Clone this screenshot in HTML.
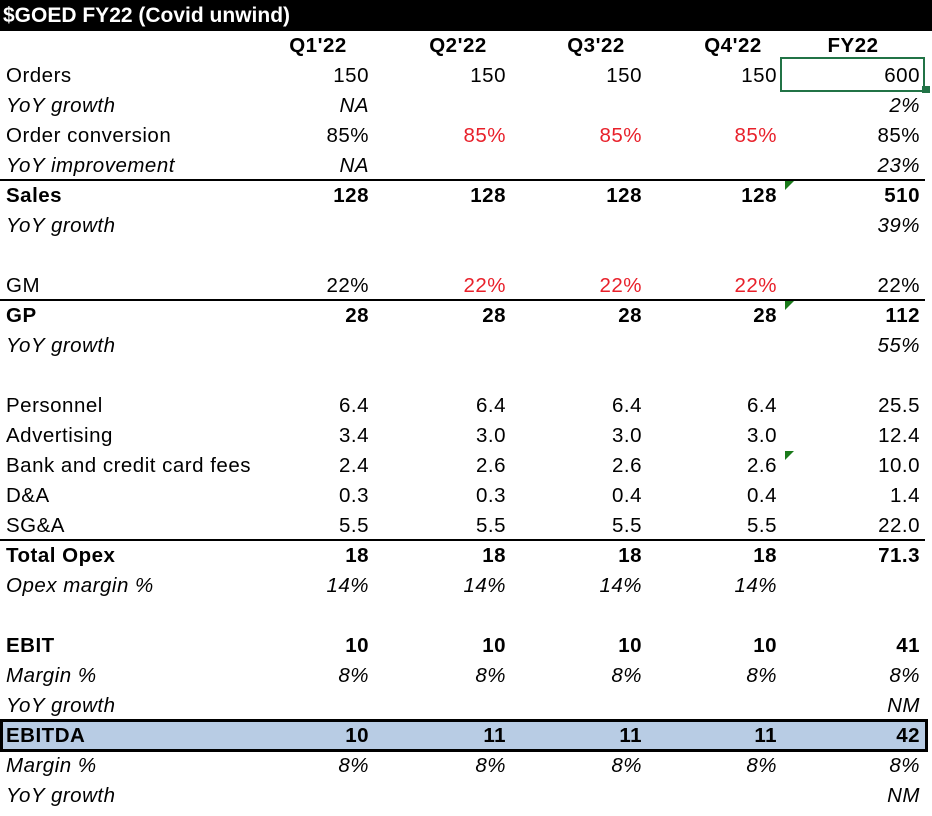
<!DOCTYPE html>
<html><head><meta charset="utf-8"><style>
body{margin:0;width:932px;height:816px;background:#fff;position:relative;overflow:hidden;font-family:"Liberation Sans",Arial,sans-serif;font-size:20.5px;letter-spacing:0.5px;color:#000}
#title{position:absolute;left:0;top:0;width:932px;height:31px;background:#000;color:#fff;font-weight:bold;font-size:21px;line-height:31px;padding-left:3px;box-sizing:border-box;letter-spacing:0}
.c{position:absolute;height:30px;line-height:31px;white-space:nowrap}
.hl{position:absolute;left:0;width:925px;height:2px;background:#000}
.tri{position:absolute;width:0;height:0;border-top:9px solid #1a7a1a;border-right:9px solid transparent}
</style></head><body>
<div id="title">$GOED FY22 (Covid unwind)</div>
<div id="ebitda-box" style="position:absolute;left:0;top:719px;width:922px;height:27px;background:#b8cce4;border:3px solid #000"></div>
<div class="hl" style="top:179px"></div>
<div class="hl" style="top:299px"></div>
<div class="hl" style="top:539px"></div>
<div style="position:absolute;left:780px;top:57px;width:141px;height:31px;border:2px solid #217346"></div>
<div style="position:absolute;left:922px;top:86px;width:8px;height:7px;background:#217346"></div>
<div class="tri" style="left:785px;top:181px"></div>
<div class="tri" style="left:785px;top:301px"></div>
<div class="tri" style="left:785px;top:451px"></div>
<script>
const headers=["Q1'22","Q2'22","Q3'22","Q4'22","FY22"];
const labels=["Orders","YoY growth","Order conversion","YoY improvement","Sales","YoY growth","","GM","GP","YoY growth","","Personnel","Advertising","Bank and credit card fees","D&A","SG&A","Total Opex","Opex margin %","","EBIT","Margin %","YoY growth","EBITDA","Margin %","YoY growth"];
const q1=["150","NA","85%","NA","128","","","22%","28","","","6.4","3.4","2.4","0.3","5.5","18","14%","","10","8%","","10","8%",""];
const q2=["150","","85%","","128","","","22%","28","","","6.4","3.0","2.6","0.3","5.5","18","14%","","10","8%","","11","8%",""];
const q3=["150","","85%","","128","","","22%","28","","","6.4","3.0","2.6","0.4","5.5","18","14%","","10","8%","","11","8%",""];
const q4=["150","","85%","","128","","","22%","28","","","6.4","3.0","2.6","0.4","5.5","18","14%","","10","8%","","11","8%",""];
const fy=["600","2%","85%","23%","510","39%","","22%","112","55%","","25.5","12.4","10.0","1.4","22.0","71.3","","","41","8%","NM","42","8%","NM"];
const styles=["","i","","i","b","i","","","b","i","","","","","","","b","i","","b","i","i","b","i","i"];
const redRows=[2,7];
const colRight=[369,506,642,777,920];
const hdrCenter=[318,458,596,733,853];
function cell(txt,x,y,align,st,name){
  const d=document.createElement('div');d.className='c';d.textContent=txt;
  
  
  d.style.top=y+'px';
  if(align==='r'){d.style.right=(932-x)+'px';}
  else if(align==='c'){d.style.left=(x-60)+'px';d.style.width='120px';d.style.textAlign='center';}
  else d.style.left=x+'px';
  if(st.includes('b'))d.style.fontWeight='bold';
  if(st.includes('i'))d.style.fontStyle='italic';
  document.body.appendChild(d);return d;
}
headers.forEach((h,j)=>cell(h,hdrCenter[j],30,'c','b','column-header'));
const cols=[q1,q2,q3,q4,fy];
labels.forEach((l,i)=>{
  const y=60+30*i;
  if(l)cell(l,6,y,'l',styles[i],'row-label');
  cols.forEach((col,j)=>{
    if(!col[i])return;
    const d=cell(col[i],colRight[j],y,'r',styles[i],'value-cell');
    if(redRows.includes(i)&&j>=1&&j<=3)d.style.color='#e8202a';
  });
});
</script>
</body></html>
